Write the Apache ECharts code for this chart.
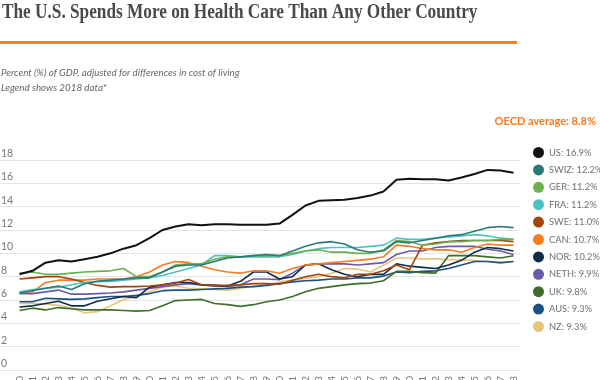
<!DOCTYPE html>
<html><head><meta charset="utf-8">
<script src="https://cdn.jsdelivr.net/npm/echarts@6/dist/echarts.min.js"></script>
<style>html,body{margin:0;padding:0;background:#fff}#c{width:600px;height:380px}</style>
</head><body><div id="c"></div>
<script>
const years = [1980,1981,1982,1983,1984,1985,1986,1987,1988,1989,1990,1991,1992,1993,1994,1995,1996,1997,1998,1999,2000,2001,2002,2003,2004,2005,2006,2007,2008,2009,2010,2011,2012,2013,2014,2015,2016,2017,2018];
const countries = ['US','SWIZ','GER','FRA','SWE','CAN','NOR','NETH','UK','AUS','NZ'];
const latest2018 = ['16.9','12.2','11.2','11.2','11.0','10.7','10.2','9.9','9.8','9.3','9.3'];
const colors = ['#111111','#2b7a78','#6ab04c','#4cc3c1','#a0450f','#f57c22','#0f2d4b','#6b5aa6','#3f6e2b','#1d5184','#e8c57e'];

const US   = [8.2,8.5,9.2,9.4,9.3,9.5,9.7,10.0,10.4,10.7,11.3,12.0,12.3,12.5,12.4,12.5,12.5,12.45,12.45,12.45,12.55,13.3,14.1,14.5,14.55,14.6,14.75,14.95,15.3,16.3,16.4,16.35,16.35,16.25,16.5,16.8,17.15,17.1,16.9];
const SWIZ = [6.6,6.8,7.0,7.2,6.9,7.4,7.6,7.7,7.8,7.9,7.9,8.4,8.9,9.0,9.0,9.3,9.6,9.7,9.8,9.9,9.8,10.2,10.6,10.9,11.0,10.8,10.3,10.1,10.2,11.0,10.9,11.1,11.3,11.5,11.6,11.9,12.2,12.3,12.2];
const GER  = [8.3,8.4,8.2,8.2,8.3,8.4,8.45,8.5,8.7,8.0,8.0,8.4,9.0,9.1,9.1,9.5,9.7,9.7,9.8,9.8,9.8,10.0,10.2,10.3,10.1,10.1,10.0,10.0,10.3,11.1,11.0,10.7,10.8,11.0,11.0,11.1,11.1,11.2,11.2];
const FRA  = [6.7,6.9,7.0,7.1,7.3,7.5,7.6,7.6,7.7,7.8,7.9,8.1,8.4,8.7,9.0,9.8,9.8,9.7,9.7,9.7,9.7,9.9,10.2,10.4,10.5,10.5,10.5,10.6,10.7,11.3,11.2,11.2,11.3,11.4,11.5,11.6,11.5,11.3,11.2];
const SWE  = [7.8,7.9,8.0,8.0,7.8,7.5,7.25,7.1,7.15,7.15,7.2,7.3,7.45,7.75,7.3,7.25,7.25,7.3,7.4,7.4,7.35,7.7,8.0,8.2,8.0,7.9,8.2,8.2,8.5,9.0,8.6,10.7,10.9,11.0,11.1,11.1,11.1,11.1,11.0];
const CAN  = [6.65,6.7,7.5,7.7,7.7,7.7,7.8,7.8,7.8,8.0,8.4,9.0,9.3,9.2,8.9,8.6,8.4,8.3,8.5,8.5,8.3,8.7,9.0,9.1,9.2,9.3,9.4,9.5,9.7,10.7,10.6,10.4,10.3,10.3,10.1,10.5,10.8,10.7,10.7];
const NOR  = [5.4,5.5,5.7,5.9,5.5,5.5,5.9,6.1,6.3,6.2,7.1,7.3,7.5,7.5,7.3,7.2,7.2,7.6,8.4,8.4,7.8,8.0,9.0,9.1,8.6,8.2,8.0,8.2,8.2,9.1,8.9,8.8,8.7,9.0,9.4,10.1,10.5,10.4,10.2];
const NETH = [6.55,6.55,6.7,6.85,6.5,6.5,6.55,6.6,6.7,6.85,7.0,7.15,7.3,7.4,7.3,7.3,7.15,7.3,7.8,7.8,7.75,8.3,9.0,9.1,9.1,9.1,9.0,9.1,9.2,9.9,10.2,10.2,10.5,10.6,10.6,10.6,10.35,10.2,9.9];
const UK   = [5.1,5.3,5.15,5.35,5.25,5.15,5.15,5.15,5.1,5.05,5.1,5.5,5.95,6.0,6.05,5.7,5.6,5.45,5.6,5.85,6.0,6.3,6.7,7.0,7.15,7.3,7.4,7.45,7.65,8.45,8.45,8.35,8.3,9.8,9.8,9.8,9.7,9.6,9.8];
const AUS  = [5.85,5.85,6.15,6.1,6.05,6.1,6.2,6.3,6.3,6.4,6.55,6.8,6.85,6.85,6.9,6.95,7.0,7.1,7.15,7.25,7.4,7.55,7.65,7.7,7.8,7.8,7.9,7.9,8.05,8.4,8.35,8.45,8.5,8.7,9.0,9.3,9.3,9.2,9.3];
const NZ   = [5.7,5.7,5.65,5.55,5.3,4.9,5.0,5.5,6.05,6.3,6.7,7.1,7.2,7.0,6.95,6.9,6.85,7.0,7.2,7.3,7.55,7.7,7.85,8.0,8.3,8.7,8.65,8.4,9.0,9.6,9.6,9.5,9.55,9.45,9.45,9.4,9.3,9.15,9.3];
const seriesValues = [US,SWIZ,GER,FRA,SWE,CAN,NOR,NETH,UK,AUS,NZ];

const title = 'The U.S. Spends More on Health Care Than Any Other Country';
const subtitle1 = 'Percent (%) of GDP, adjusted for differences in cost of living';
const subtitle2 = 'Legend shows 2018 data*';
const oecdNote = 'OECD average: 8.8%';

const labelMap = {};
countries.forEach((c, i) => { labelMap[c] = c + ': ' + latest2018[i] + '%'; });

const chart = echarts.init(document.getElementById('c'), null, {renderer: 'canvas'});
const series = countries.map((c, i) => ({
  name: c,
  type: 'line',
  data: years.map((y, j) => [y, seriesValues[i][j]]),
  showSymbol: false,
  symbol: 'circle',
  lineStyle: {width: i === 0 ? 2 : 1.6, color: colors[i]},
  itemStyle: {color: colors[i]},
  z: 20 - i,
  animation: false
}));

chart.setOption({
  animation: false,
  backgroundColor: '#ffffff',
  grid: {left: 0, right: 80, top: 160, bottom: 10, containLabel: false, outerBoundsMode: 'none'},
  xAxis: {
    type: 'value', min: 1978.5, max: 2018.5,
    axisLine: {show: false}, axisTick: {show: false}, splitLine: {show: false},
    axisLabel: {customValues: years, rotate: 90, margin: 6, color: '#777', fontSize: 10,
      fontFamily: 'Lato', formatter: v => String(v)}
  },
  yAxis: {
    type: 'value', min: 0, max: 18, interval: 2,
    axisLine: {show: false}, axisTick: {show: false},
    splitLine: {lineStyle: {color: '#e4e4e4', width: 1}},
    axisLabel: {inside: true, margin: 1, verticalAlign: 'bottom', align: 'left',
      color: '#777', fontSize: 10.5, fontFamily: 'Lato', padding: [0, 0, 1, 0]}
  },
  legend: {
    orient: 'vertical', left: 533, top: 147, padding: 0,
    icon: 'circle', itemWidth: 11, itemHeight: 11, itemGap: 6.4,
    data: countries,
    formatter: n => labelMap[n],
    textStyle: {color: '#707070', fontSize: 9.3, fontFamily: 'Lato', lineHeight: 11, overflow: 'none'},
    selectedMode: false
  },
  graphic: [
    {type: 'text', left: 2, top: 3, scaleX: 0.862, style: {text: title, fontFamily: 'Liberation Serif', fontWeight: 'bold', fontSize: 20, fill: '#4a4a4a'}},
    {type: 'rect', left: 0, top: 41, shape: {width: 517, height: 3}, style: {fill: '#f58025'}},
    {type: 'text', left: 1, top: 68, style: {text: subtitle1, fontFamily: 'Lato', fontStyle: 'italic', fontSize: 9.8, fill: '#666'}},
    {type: 'text', left: 1, top: 83, style: {text: subtitle2, fontFamily: 'Lato', fontStyle: 'italic', fontSize: 9.8, fill: '#666'}},
    {type: 'text', right: 4, top: 116, style: {text: oecdNote, fontFamily: 'Lato', fontWeight: 'bold', fontSize: 11, fill: '#f47b20'}}
  ],
  series: series
});
</script>
</body></html>
